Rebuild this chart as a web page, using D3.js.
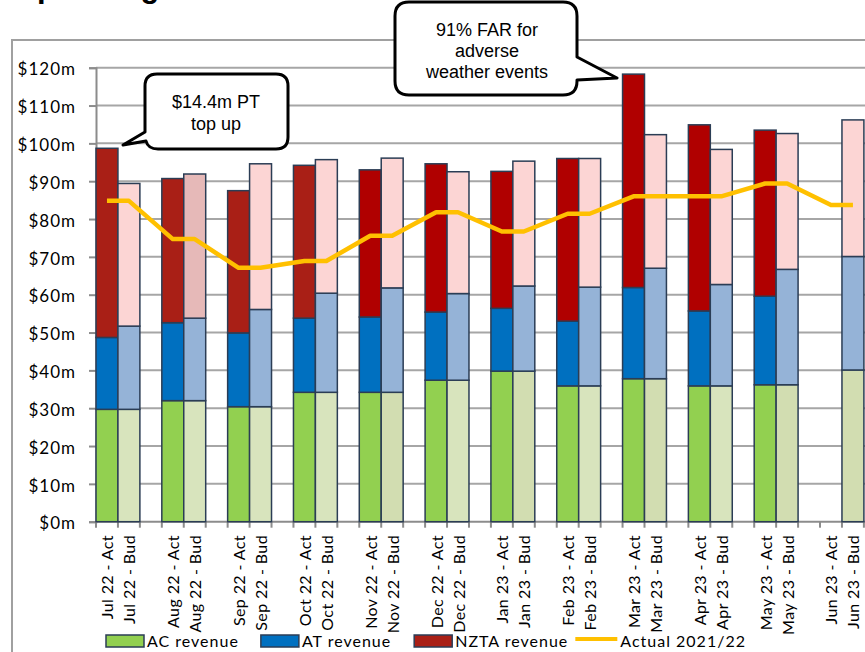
<!DOCTYPE html>
<html>
<head>
<meta charset="utf-8">
<script src="https://cdn.jsdelivr.net/npm/d3@7"></script>
<style>
  html, body { margin: 0; padding: 0; background: #fff; }
  svg { display: block; }
</style>
</head>
<body>
<script>
// Monthly operating revenue: actual vs budget, stacked by funder ($m)
const months = ["Jul 22", "Aug 22", "Sep 22", "Oct 22", "Nov 22", "Dec 22",
                "Jan 23", "Feb 23", "Mar 23", "Apr 23", "May 23", "Jun 23"];

// AC revenue
const acAct = [29.7, 32.0, 30.4, 34.2, 34.2, 37.4, 39.8, 35.9, 37.8, 35.9, 36.2, null];
const acBud = [29.7, 32.0, 30.4, 34.2, 34.2, 37.4, 39.8, 35.9, 37.8, 35.9, 36.2, 40.1];
// AT revenue
const atAct = [19.0, 20.6, 19.5, 19.6, 19.9, 18.0, 16.6, 17.1, 24.1, 19.8, 23.4, null];
const atBud = [22.0, 21.8, 25.7, 26.2, 27.6, 22.9, 22.5, 26.1, 29.2, 26.8, 30.5, 30.0];
// NZTA revenue
const nztaAct = [50.0, 38.1, 37.6, 40.4, 38.9, 39.2, 36.2, 43.0, 56.4, 49.2, 43.9, null];
const nztaBud = [37.7, 38.1, 38.5, 35.3, 34.3, 32.2, 33.0, 34.0, 35.3, 35.7, 35.9, 36.1];
// Actual 2021/22 total
const actual2122 = [84.8, 74.7, 67.1, 68.9, 75.6, 81.8, 76.7, 81.4, 86.0, 86.0, 89.4, 83.7];

const yTicks = [0, 10, 20, 30, 40, 50, 60, 70, 80, 90, 100, 110, 120];
const seriesNames = ["AC revenue", "AT revenue", "NZTA revenue", "Actual 2021/22"];

// ---- styling ----
const colAC = "#92d050", colACBudA = "#d8e4bd", colACBudB = "#d2ddb1";
const colAT = "#0070c0", colATBud = "#95b3d7";
const colNZ1 = "#a91f16", colNZ2 = "#b00000", colNZBud = "#fcd5d4", colNZBudAlt = "#e6b9b8";
const colLine = "#ffc000";
const barStroke = "#2b3d55";
const gridCol = "#a6a6a6";
const budShadeB = new Set(["Nov 22", "Jan 23", "Mar 23", "May 23", "Jun 23"]);
const earlyRed = new Set(["Jul 22", "Aug 22", "Sep 22", "Oct 22"]);

const W = 865, H = 652;
const plot = { left: 96, top: 67.7, bottom: 521.7, slot: 21.94 };

const svg = d3.select("body").append("svg").attr("width", W).attr("height", H)
  .style("font-family", "Lato, sans-serif");

// category slots: Act, Bud and an empty spacer for every month
const cats = [];
months.forEach((m, i) => {
  cats.push({ key: m + " - Act", month: m, i, kind: "Act" });
  cats.push({ key: m + " - Bud", month: m, i, kind: "Bud" });
  cats.push({ key: m + " gap", month: m, i, kind: "gap" });
});

const x = d3.scaleBand().domain(cats.map(d => d.key))
  .range([plot.left, plot.left + plot.slot * cats.length]).padding(0);
const y = d3.scaleLinear().domain([0, 120]).range([plot.bottom, plot.top]);
const bw = x.bandwidth();

// title (runs off the top edge)
svg.append("text").attr("x", 13).attr("y", -3)
  .style("font-family", "'Liberation Sans', Arial, sans-serif")
  .style("font-weight", "bold").style("font-size", "31px")
  .text("Operating revenue");

// chart frame
svg.append("rect").attr("x", 12).attr("y", 40).attr("width", 1000).attr("height", 700)
  .attr("fill", "none").attr("stroke", "#a0a0a0").attr("stroke-width", 2);

// gridlines
svg.append("g").selectAll("line").data(yTicks.filter(t => t > 0)).join("line")
  .attr("x1", plot.left).attr("x2", plot.left + plot.slot * cats.length)
  .attr("y1", d => y(d)).attr("y2", d => y(d))
  .attr("stroke", gridCol).attr("stroke-width", 2);

// y axis
const yAxis = svg.append("g").attr("transform", `translate(${plot.left},0)`)
  .call(d3.axisLeft(y).tickValues(yTicks).tickSize(7).tickPadding(13)
    .tickFormat(d => "$" + d + "m"));
yAxis.select(".domain").attr("stroke", "#8c8c8c").attr("stroke-width", 2);
yAxis.selectAll(".tick line").attr("stroke", "#8c8c8c").attr("stroke-width", 2);
yAxis.selectAll(".tick text").attr("dy", "0.42em")
  .style("font-family", "Lato, sans-serif").style("font-size", "17px")
  .style("letter-spacing", "1px").attr("fill", "#000");

// x axis with a tick at every slot boundary
const bounds = d3.range(cats.length + 1).map(k => plot.left + k * plot.slot);
const xg = svg.append("g");
xg.append("line").attr("x1", plot.left).attr("x2", plot.left + plot.slot * cats.length)
  .attr("y1", plot.bottom).attr("y2", plot.bottom)
  .attr("stroke", "#8c8c8c").attr("stroke-width", 2);
xg.selectAll("line.tk").data(bounds).join("line").attr("class", "tk")
  .attr("x1", d => d).attr("x2", d => d)
  .attr("y1", plot.bottom).attr("y2", plot.bottom + 6)
  .attr("stroke", "#8c8c8c").attr("stroke-width", 2);

xg.selectAll("text").data(cats.filter(c => c.kind !== "gap")).join("text")
  .attr("transform", d => `translate(${x(d.key) + bw / 2},535) rotate(-90)`)
  .attr("text-anchor", "end").attr("dominant-baseline", "central")
  .style("font-size", "16px").style("letter-spacing", "0.4px")
  .text(d => d.key);

// stacked bars
const segs = [];
cats.forEach(c => {
  if (c.kind === "gap") return;
  const act = c.kind === "Act";
  const vals = act ? [acAct[c.i], atAct[c.i], nztaAct[c.i]] : [acBud[c.i], atBud[c.i], nztaBud[c.i]];
  if (vals[0] == null) return;
  const fills = act
    ? [colAC, colAT, earlyRed.has(c.month) ? colNZ1 : colNZ2]
    : [budShadeB.has(c.month) ? colACBudB : colACBudA, colATBud,
       c.month === "Aug 22" ? colNZBudAlt : colNZBud];
  let base = 0;
  vals.forEach((v, s) => {
    segs.push({ key: c.key, y0: base, y1: base + v, fill: fills[s] });
    base += v;
  });
});

svg.append("g").selectAll("rect").data(segs).join("rect")
  .attr("x", d => x(d.key)).attr("width", bw)
  .attr("y", d => y(d.y1)).attr("height", d => y(d.y0) - y(d.y1))
  .attr("fill", d => d.fill).attr("stroke", barStroke).attr("stroke-width", 1.5);

// prior-year line through the Act and Bud slots of each month
const linePts = cats.filter(c => c.kind !== "gap")
  .map(c => ({ x: x(c.key) + bw / 2, v: actual2122[c.i] }));
svg.append("path").datum(linePts)
  .attr("d", d3.line().x(d => d.x).y(d => y(d.v)))
  .attr("fill", "none").attr("stroke", colLine).attr("stroke-width", 4.5)
  .attr("stroke-linejoin", "round");

// legend
const lg = svg.append("g").style("font-size", "16px").style("letter-spacing", "1px");
let lx = 106;
const legendFills = [colAC, colAT, colNZ1];
seriesNames.forEach((name, k) => {
  if (k < 3) {
    lg.append("rect").attr("x", lx).attr("y", 635).attr("width", 38).attr("height", 12)
      .attr("fill", legendFills[k]).attr("stroke", barStroke).attr("stroke-width", 1.5);
    lx += 41;
  } else {
    lg.append("line").attr("x1", lx - 15).attr("x2", lx + 27).attr("y1", 639).attr("y2", 639)
      .attr("stroke", colLine).attr("stroke-width", 4);
    lx += 30;
  }
  const t = lg.append("text").attr("x", lx).attr("y", 647).text(name);
  lx += t.node().getComputedTextLength() + 22 + (k === 1 ? 1 : 0);
});

// callouts
const callouts = svg.append("g").style("font-family", "'Liberation Sans', Arial, sans-serif")
  .style("font-size", "18px");

callouts.append("path")
  .attr("d", "M157,74 H276 Q288,74 288,86 V137 Q288,149 276,149 H158 Q148,149 146,141 L123,145 L145,132 V86 Q145,74 157,74 Z")
  .attr("fill", "#fff").attr("stroke", "#000").attr("stroke-width", 3).attr("stroke-linejoin", "round");
callouts.append("text").attr("x", 216).attr("y", 108).attr("text-anchor", "middle").text("$14.4m PT");
callouts.append("text").attr("x", 216).attr("y", 130).attr("text-anchor", "middle").text("top up");

callouts.append("path")
  .attr("d", "M409,2 H563 Q577,2 577,16 V57 L617,78 L577,80 V81 Q577,95 563,95 H409 Q395,95 395,81 V16 Q395,2 409,2 Z")
  .attr("fill", "#fff").attr("stroke", "#000").attr("stroke-width", 3).attr("stroke-linejoin", "round");
[["91% FAR for", 36], ["adverse", 57], ["weather events", 78]].forEach(([s, ty]) => {
  callouts.append("text").attr("x", 487).attr("y", ty).attr("text-anchor", "middle").text(s);
});
</script>
</body>
</html>
